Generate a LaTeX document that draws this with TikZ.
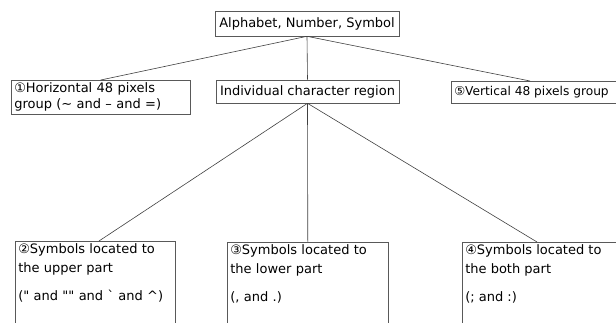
\documentclass[tikz,border=0pt]{standalone}
\usepackage{fontspec}
\setmainfont{DejaVu Sans}
\begin{document}
\begin{tikzpicture}[x=1pt,y=-1pt,
    box/.style={draw=black!65, line width=0.6pt, inner sep=2pt, font=\fontsize{13}{19}\selectfont},
    tbox/.style={box, anchor=north west, align=left, text width=#1, inner xsep=3pt},
    open/.style={box, draw=none, anchor=north west, align=left, inner xsep=3pt},
    rim/.style={draw=black!65, line width=0.6pt},
    conn/.style={draw=black!75, line width=0.6pt}]
      \useasboundingbox (0,0) rectangle (616,323);
      \coordinate (edge) at (640, 0);
      % top level
      \draw (307.0, 23.5) node[box, minimum width=184pt, minimum height=25pt](alpha){Alphabet, Number, Symbol};
      % second level
      \draw (11.0, 80.0) node[tbox=173pt, font=\fontsize{13}{16.5}\selectfont, text depth=20pt](horiz){①Horizontal 48 pixels\\group (\textasciitilde{} and -- and =)};
      \draw (307.5, 91.5) node[box, minimum width=183pt, minimum height=23pt](indiv){Individual character region};
      \draw (451.0, 81.0) node[open, minimum height=22pt, font=\fontsize{12.2}{19}\selectfont](vert){⑤Vertical 48 pixels group};
      % third level
      \draw (15.0, 241.0) node[tbox=154pt, text depth=80pt](upper){②Symbols located to\\the upper part\\[9pt](\textquotedbl{} and \textquotedbl\textquotedbl{} and \textasciigrave{} and \textasciicircum)};
      \draw (227.0, 242.0) node[tbox=155pt, text depth=80pt](lower){③Symbols located to\\the lower part\\[9pt](, and .)};
      \draw (462.0, 242.0) node[open, text depth=80pt](both){④Symbols located to\\the both part\\[9pt](; and :)};
      % boxes running off the right edge
      \draw[rim] (vert.north west -| edge) -- (vert.north west) -- (vert.south west) -- (vert.south west -| edge);
      \draw[rim] (both.north west -| edge) -- (both.north west) -- (both.south west);
      % branches from the top box
      \draw[conn] (alpha.south) -- (horiz.north);
      \draw[conn] (alpha.south) -- (indiv.north);
      \draw[conn] (alpha.south) -- ([xshift=79pt]vert.north west);
      % branches from the character region
      \draw[conn] (indiv.south) -- ([xshift=84pt]upper.north west);
      \draw[conn] (indiv.south) -- (lower.north);
      \draw[conn] (indiv.south) -- ([xshift=75pt]both.north west);
\end{tikzpicture}
\end{document}
